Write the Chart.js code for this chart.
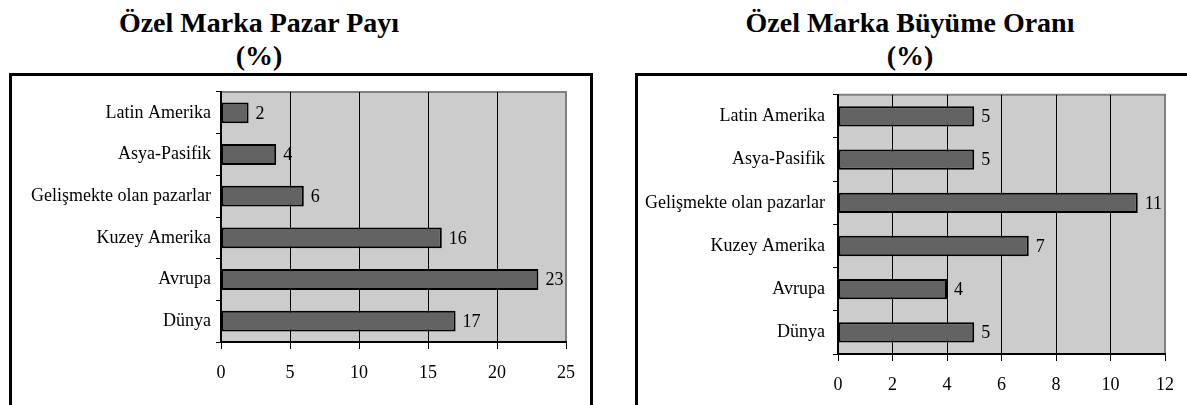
<!DOCTYPE html>
<html>
<head>
<meta charset="utf-8">
<script src="https://cdn.jsdelivr.net/npm/chart.js@4/dist/chart.umd.min.js"></script>
<style>
  body { margin: 0; background: #fff; width: 1187px; height: 405px; overflow: hidden; position: relative; }
  .title { position: absolute; top: 6px; text-align: center; font: bold 28px 'Liberation Serif', serif; line-height: 33px; color: #000; }
  .box { position: absolute; top: 73px; border: 3px solid #000; background: #fff; }
  .box canvas { display: block; }
</style>
</head>
<body>
<div class="title" style="left:59px;width:400px">Özel Marka Pazar Payı<br>(%)</div>
<div class="title" style="left:710px;width:400px">Özel Marka Büyüme Oranı<br>(%)</div>
<div class="box" style="left:9px;width:578px;height:340px"><canvas id="payChart"></canvas></div>
<div class="box" style="left:635px;width:580px;height:340px"><canvas id="buyumeChart"></canvas></div>
<script>
var regions = ['Latin Amerika', 'Asya-Pasifik', 'Gelişmekte olan pazarlar', 'Kuzey Amerika', 'Avrupa', 'Dünya'];
var marketShare = [2, 4, 6, 16, 23, 17];
var growthRate = [5, 5, 11, 7, 4, 5];
var shareTicks = [0, 5, 10, 15, 20, 25];
var growthTicks = [0, 2, 4, 6, 8, 10, 12];

var FONT = { family: "'Liberation Serif', serif", size: 18 };

// gray plot area with a gray top/right frame
var plotBg = {
  id: 'plotBg',
  beforeDraw: function (chart) {
    var a = chart.chartArea, ctx = chart.ctx;
    ctx.save();
    ctx.fillStyle = '#cccccc';
    ctx.fillRect(a.left, a.top, a.right - a.left, a.bottom - a.top);
    ctx.strokeStyle = '#808080';
    ctx.lineWidth = 2;
    ctx.beginPath();
    ctx.moveTo(a.left, a.top);
    ctx.lineTo(a.right, a.top);
    ctx.lineTo(a.right, a.bottom);
    ctx.stroke();
    ctx.restore();
  }
};

// value next to each bar end
var valueLabels = {
  id: 'valueLabels',
  afterDatasetsDraw: function (chart) {
    var ctx = chart.ctx;
    ctx.save();
    ctx.fillStyle = '#000';
    ctx.font = FONT.size + 'px ' + FONT.family;
    ctx.textBaseline = 'middle';
    ctx.textAlign = 'left';
    chart.getDatasetMeta(0).data.forEach(function (bar, i) {
      ctx.fillText(chart.data.datasets[0].data[i], bar.x + 7, bar.y + 1);
    });
    ctx.restore();
  }
};

function makeChart(id, w, h, values, ticks, layout, barPct) {
  var canvas = document.getElementById(id);
  canvas.width = w;
  canvas.height = h;
  var max = ticks[ticks.length - 1];
  var last = ticks.length - 1;
  return new Chart(canvas.getContext('2d'), {
    type: 'bar',
    data: {
      labels: regions,
      datasets: [{
        data: values,
        backgroundColor: '#636363',
        borderColor: '#000',
        borderWidth: 2,
        borderSkipped: false,
        barPercentage: barPct,
        categoryPercentage: 1
      }]
    },
    options: {
      indexAxis: 'y',
      responsive: false,
      animation: false,
      devicePixelRatio: 1,
      layout: { padding: { left: 0, top: layout.top, right: layout.right, bottom: 0 } },
      plugins: { legend: { display: false }, tooltip: { enabled: false } },
      scales: {
        x: {
          min: 0,
          max: max,
          afterBuildTicks: function (s) { s.ticks = ticks.map(function (v) { return { value: v }; }); },
          afterFit: function (s) { s.height = h - layout.bottom; },
          grid: {
            color: function (c) { return c.index === last ? 'rgba(0,0,0,0)' : '#000'; },
            tickColor: '#000',
            lineWidth: 1,
            tickLength: 7
          },
          border: { color: '#000', width: 2 },
          ticks: { color: '#000', font: FONT, padding: 13, maxRotation: 0 }
        },
        y: {
          afterFit: function (s) { s.width = layout.left; },
          grid: { drawOnChartArea: false, color: '#000', tickLength: 5, offset: true },
          border: { color: '#000', width: 2 },
          ticks: { color: '#000', font: FONT, padding: layout.labelPad }
        }
      }
    },
    plugins: [plotBg, valueLabels]
  });
}

makeChart('payChart', 578, 340, marketShare, shareTicks,
  { left: 209, right: 24, top: 16, bottom: 266, labelPad: 5 }, 0.5);
makeChart('buyumeChart', 580, 340, growthRate, growthTicks,
  { left: 200, right: 53, top: 16, bottom: 278, labelPad: 8 }, 0.47);
</script>
</body>
</html>
